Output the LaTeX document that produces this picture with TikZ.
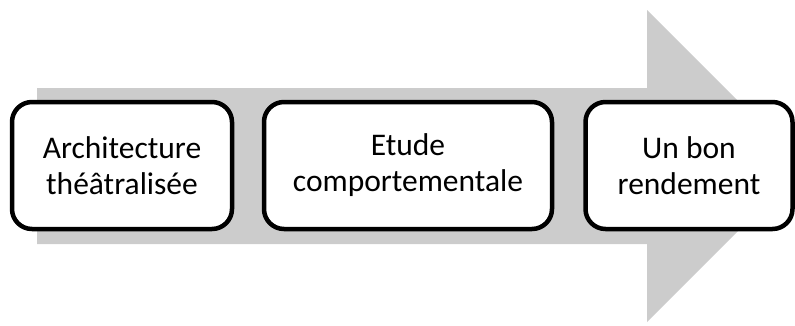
\documentclass[tikz,border=0pt]{standalone}
\usepackage{fontspec}
\setmainfont{Carlito}
\definecolor{arrowgray}{RGB}{204,204,204}
\tikzset{
  stepbox/.style={draw=black, fill=white, line width=4.5pt, rounded corners=20pt,
    minimum height=127pt, align=center, inner sep=0pt,
    font=\fontsize{31.5}{36}\selectfont}
}
\begin{document}
\begin{tikzpicture}[x=1pt,y=-1pt]
\useasboundingbox (0,0) rectangle (795,325);
\clip (0,0) rectangle (795,325);
\fill[arrowgray] (37,88) -- (647,88) -- (647,10) -- (803,166) -- (647,322) -- (647,244) -- (37,244) -- cycle;
\node[stepbox, minimum width=220pt] (a) at (122,165.5) {Architecture\\théâtralisée};
\node[stepbox, minimum width=288pt] (b) at (408,165.5) {Etude\\comportementale};
\node[stepbox, minimum width=207pt] (c) at (689,165.5) {Un bon\\rendement};
\end{tikzpicture}
\end{document}
